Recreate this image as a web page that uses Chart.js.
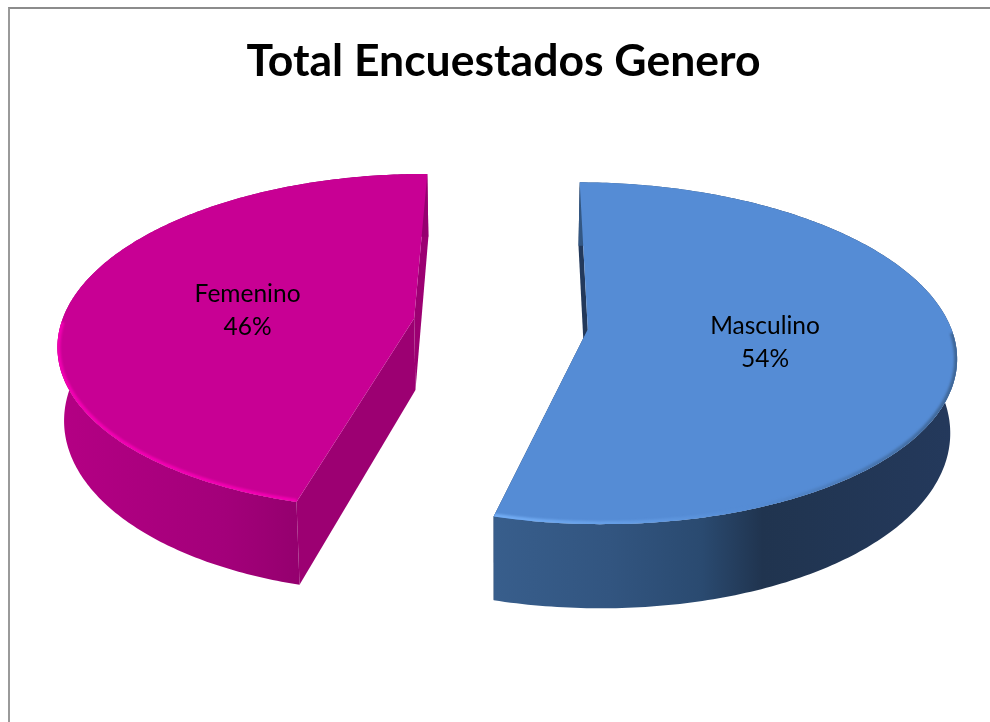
<!DOCTYPE html>
<html>
<head>
<meta charset="utf-8">
<title>Total Encuestados Genero</title>
<script src="https://cdn.jsdelivr.net/npm/chart.js@4"></script>
<style>
    html, body { margin: 0; padding: 0; background: #ffffff; overflow: hidden; }
    #frame { position: absolute; left: 8px; top: 7px; width: 982px; height: 715px; box-sizing: border-box; border-top: 2px solid #8c8c8c; border-left: 2px solid #9a9a9a; }
    #pie { position: absolute; left: 17px; top: 0; }
</style>
</head>
<body>
<div id="frame"></div>
<canvas id="pie" width="973" height="722"></canvas>
<script>
// Chart data
const categories = ['Masculino', 'Femenino'];
const percentages = [54, 46];
const chartTitle = 'Total Encuestados Genero';

// Colours of each slice
const topColors = ['#558cd5', '#c80094'];
const rimColors = ['#74aef5', '#f200b2'];
const cutColors = ['#23395b', '#9c0072'];
const wallStops = [
    [[0, '#385e8c'], [0.25, '#325580'], [0.45, '#2a4a70'], [0.58, '#20344f'], [1, '#24395c']],
    [[0, '#b40084'], [0.45, '#a3007a'], [0.8, '#8a0066'], [1, '#960070']]
];

// Look of the tilted pie, the library gives centre and angles of each slice
const nudgeX = -4;
const scaleRight = 362;
const scaleLeft = 353;
const scaleDown = 166;
const perspective = 0.14;
const depth = 72;
const shrink = 0.015;

// Turn a point on the flat pie (radius 1) into a point on the page
function project(center, u, v, lowered) {
    const w = 1 - perspective * v;
    const a = u < 0 ? scaleLeft : scaleRight;
    let x = a * u / w;
    let y = (scaleDown * v + (lowered ? depth : 0)) / w;
    if (lowered) x = x * (1 - shrink);
    return { x: center.x + nudgeX + x, y: center.y + y };
}

function tracePath(ctx, points) {
    ctx.beginPath();
    points.forEach(function(p, i) {
        if (i === 0) ctx.moveTo(p.x, p.y);
        else ctx.lineTo(p.x, p.y);
    });
}

function sliceParts(arc) {
    const explode = arc.options.offset / 100;
    const mid = (arc.startAngle + arc.endAngle) / 2;
    const ox = Math.cos(mid) * explode;
    const oy = Math.sin(mid) * explode;
    const rim = [];
    for (let i = 0; i <= 240; i++) {
        const t = arc.startAngle + (arc.endAngle - arc.startAngle) * i / 240;
        rim.push({ u: ox + Math.cos(t), v: oy + Math.sin(t) });
    }
    return { ox, oy, mid, rim };
}

const tiltedPie = {
    id: 'tiltedPie',
    // The slices are painted here, from the arc elements of the library
    beforeDatasetDraw: function(chart, args) {
        const ctx = chart.ctx;
        const arcs = chart.getDatasetMeta(args.index).data;
        arcs.forEach(function(arc, idx) {
            const c = { x: arc.x, y: arc.y };
            const s = sliceParts(arc);
            const top = s.rim.map(p => project(c, p.u, p.v, false));
            const low = s.rim.map(p => project(c, p.u, p.v, true));
            const apexTop = project(c, s.ox, s.oy, false);
            const apexLow = project(c, s.ox, s.oy, true);

            // cut faces
            ctx.fillStyle = cutColors[idx];
            [0, top.length - 1].forEach(function(n) {
                tracePath(ctx, [apexTop, top[n], low[n], apexLow]);
                ctx.closePath();
                ctx.fill();
            });

            // outer wall
            const xs = top.concat(low).map(p => p.x);
            const left = Math.min.apply(null, xs);
            const right = Math.max.apply(null, xs);
            const grad = ctx.createLinearGradient(left, 0, right, 0);
            wallStops[idx].forEach(stop => grad.addColorStop(stop[0], stop[1]));
            tracePath(ctx, top.concat(low.slice().reverse()));
            ctx.closePath();
            ctx.fillStyle = grad;
            ctx.fill();

            // top face
            tracePath(ctx, [apexTop].concat(top));
            ctx.closePath();
            ctx.fillStyle = topColors[idx];
            ctx.fill();

            // bright edge along the front
            const front = top.filter((p, i) => s.rim[i].v - s.oy > 0.02);
            const rimGrad = ctx.createLinearGradient(left, 0, right, 0);
            if (idx === 0) {
                rimGrad.addColorStop(0, rimColors[idx]);
                rimGrad.addColorStop(0.55, topColors[idx]);
                rimGrad.addColorStop(1, '#3f6696');
            } else {
                rimGrad.addColorStop(0, rimColors[idx]);
                rimGrad.addColorStop(1, rimColors[idx]);
            }
            ctx.save();
            tracePath(ctx, [apexTop].concat(top));
            ctx.closePath();
            ctx.clip();
            tracePath(ctx, front);
            ctx.strokeStyle = rimGrad;
            ctx.lineWidth = 6;
            ctx.filter = 'blur(1px)';
            ctx.stroke();
            ctx.restore();
        });
        return false;
    },
    afterDatasetsDraw: function(chart) {
        const ctx = chart.ctx;
        const arcs = chart.getDatasetMeta(0).data;
        ctx.save();
        ctx.fillStyle = '#000000';
        ctx.font = '24.5px Lato';
        ctx.textAlign = 'center';
        ctx.textBaseline = 'middle';
        arcs.forEach(function(arc, idx) {
            const s = sliceParts(arc);
            const u = s.ox + Math.cos(s.mid) * 0.485;
            const v = s.oy + Math.sin(s.mid) * 0.485;
            const p = project({ x: arc.x, y: arc.y }, u, v, false);
            ctx.fillText(categories[idx], p.x, p.y - 14);
            ctx.fillText(percentages[idx] + '%', p.x, p.y + 19);
        });
        ctx.restore();
    }
};

new Chart(document.getElementById('pie'), {
    type: 'pie',
    data: {
        labels: categories,
        datasets: [{
            data: percentages,
            backgroundColor: topColors,
            borderWidth: 0,
            offset: 24.5
        }]
    },
    options: {
        responsive: false,
        animation: false,
        rotation: 0.5,
        layout: { padding: { bottom: 177 } },
        plugins: {
            legend: { display: false },
            tooltip: { enabled: false },
            title: {
                display: true,
                text: chartTitle,
                color: '#000000',
                font: { family: 'Lato', size: 44.5, weight: 'bold' },
                padding: { top: 35, bottom: 14 }
            }
        }
    },
    plugins: [tiltedPie]
});
</script>
</body>
</html>
